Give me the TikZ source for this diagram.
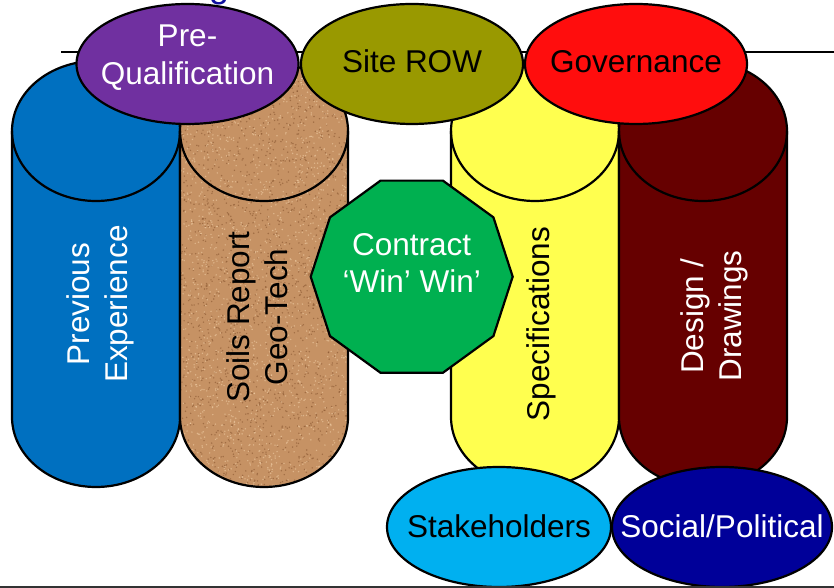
\documentclass[tikz,border=0pt]{standalone}
\usepackage{fontspec}
\setmainfont{Liberation Sans}
\usetikzlibrary{shapes.geometric}
\definecolor{cblue}{HTML}{0070C0}
\definecolor{ccork}{RGB}{198,146,100}
\definecolor{corkdark}{RGB}{125,75,38}
\definecolor{corklight}{RGB}{240,205,165}
\definecolor{cyellow}{HTML}{FFFF4F}
\definecolor{cmaroon}{HTML}{660000}
\definecolor{cpurple}{HTML}{7030A0}
\definecolor{colive}{HTML}{999900}
\definecolor{cred}{HTML}{FF0D0D}
\definecolor{cgreen}{HTML}{00B050}
\definecolor{clblue}{HTML}{00B0F0}
\definecolor{cdblue}{HTML}{000099}
\definecolor{ctitle}{HTML}{1010A0}
\begin{document}
\begin{tikzpicture}[x=1pt,y=1pt,
  outl/.style={draw=black,line width=2.2pt},
  cyl/.style 2 args={insert path={(#1,457) -- (#1,171) arc[start angle=180,end angle=360,x radius=84pt,y radius=70pt] -- (#2,457) arc[start angle=0,end angle=180,x radius=84pt,y radius=70pt] -- cycle}},
  cylrim/.style={insert path={(#1,457) arc[start angle=180,end angle=360,x radius=84pt,y radius=70pt]}},
  lbl/.style={font=\fontsize{31.5}{37.8}\selectfont,align=center,inner sep=0pt},
  oval/.style={ellipse,outl,inner sep=0pt,minimum width=222pt,minimum height=120pt},
]
\useasboundingbox (0,0) rectangle (834,588);
% cut-off title fragment
\node[lbl,font=\fontsize{36}{40}\selectfont,text=ctitle,anchor=base west] (ttl) at (209,590.5) {g};
% top rule
\coordinate (tlL) at (61,536);
\coordinate (tlR) at (834,536);
\draw[line width=1.5pt] (tlL) -- (tlR);
% blue cylinder
\path[outl,fill=cblue,cyl={12}{180}];
\path[outl,cylrim=12];
% cork cylinder
\path[fill=ccork,cyl={180}{348}];
\begin{scope}
  \clip[cyl={180}{348}];
  \pgfmathsetseed{7}
  \foreach \i in {1,...,1800}{\fill[corkdark,opacity=0.5] (180+168*rnd,101+426*rnd) circle[radius=0.8pt];}
  \foreach \i in {1,...,1800}{\fill[corklight,opacity=0.6] (180+168*rnd,101+426*rnd) circle[radius=0.8pt];}
\end{scope}
\path[outl,cyl={180}{348}];
\path[outl,cylrim=180];
% yellow cylinder
\path[outl,fill=cyellow,cyl={451}{619}];
\path[outl,cylrim=451];
% maroon cylinder
\path[outl,fill=cmaroon,cyl={619}{787}];
\path[outl,cylrim=619];
% cylinder labels
\node[lbl,text=white,rotate=90] (tprev) at (100,284) {Previous\\Experience};
\node[lbl,rotate=90] (tsoil) at (257,271) {Soils Report\\Geo-Tech};
\node[lbl,rotate=90] (tspec) at (541,264) {Specifications};
\node[lbl,text=white,rotate=90] (tdes) at (714,272) {Design /\\Drawings};
% centre decagon
\node[regular polygon,regular polygon sides=10,minimum size=202pt,inner sep=0pt,outl,fill=cgreen] (ctr) at (411.7,311.3) {};
\node[lbl,text=white] (tctr) at (411.7,325) {Contract\\‘Win’ Win’};
% top ovals
\node[oval,fill=cpurple] (pq) at (187.5,524) {};
\node[lbl,text=white] (tpq) at (187.5,530) {Pre-\\Qualification};
\node[oval,fill=colive] (row) at (412,524) {};
\node[lbl] (trow) at (412,526.5) {Site ROW};
\node[oval,fill=cred] (gov) at (636,524) {};
\node[lbl] (tgov) at (636,526.5) {Governance};
% bottom ovals
\node[oval,fill=clblue,minimum width=224pt] (stk) at (499,61) {};
\node[lbl] (tstk) at (499,62) {Stakeholders};
\node[oval,fill=cdblue,minimum width=220pt] (soc) at (722,61) {};
\node[lbl,text=white] (tsoc) at (722,62) {Social/Political};
% bottom rule
\coordinate (blL) at (0,1);
\coordinate (blR) at (834,1);
\draw[line width=2pt,draw=black!80] (blL) -- (blR);
\end{tikzpicture}
\end{document}
